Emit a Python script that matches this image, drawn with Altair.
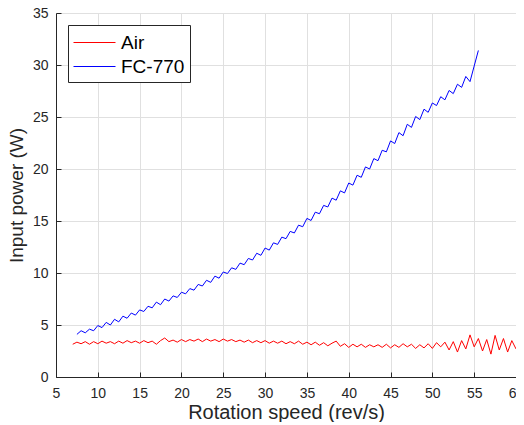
import altair as alt
import pandas as pd

# ---- data ----
air_start, step = 7.0, 0.5
air_power = [
    3.15, 3.35, 3.2, 3.4, 3.15, 3.4, 3.2, 3.45, 3.25, 3.4,
    3.2, 3.45, 3.25, 3.5, 3.3, 3.45, 3.25, 3.5, 3.3, 3.45,
    3.15, 3.5, 3.75, 3.4, 3.55, 3.35, 3.6, 3.4, 3.6, 3.45,
    3.65, 3.4, 3.65, 3.45, 3.6, 3.4, 3.65, 3.45, 3.6, 3.4,
    3.55, 3.35, 3.55, 3.3, 3.5, 3.3, 3.5, 3.25, 3.45, 3.25,
    3.45, 3.2, 3.4, 3.2, 3.45, 3.15, 3.35, 3.1, 3.35, 3.05,
    3.3, 3.0, 3.25, 3.45, 2.95, 3.2, 2.85, 3.15, 2.9, 3.15,
    2.85, 3.1, 2.9, 3.1, 2.85, 3.15, 2.8, 3.1, 2.85, 3.2,
    2.9, 3.15, 2.75, 3.1, 2.8, 3.2, 2.75, 3.3, 2.9, 3.35,
    2.6, 3.4, 2.4, 3.5, 2.7, 4.05, 2.9, 3.7, 2.5, 3.6,
    2.2, 4.0, 2.6, 3.7, 2.4, 3.5, 2.7,
]
fc_start = 7.5
fc_power = [
    4.1, 4.45, 4.25, 4.6, 4.45, 4.95, 4.75, 5.25, 5.0, 5.55,
    5.3, 5.85, 5.65, 6.15, 5.95, 6.45, 6.3, 6.8, 6.65, 7.2,
    6.95, 7.5, 7.3, 7.8, 7.65, 8.15, 8.0, 8.5, 8.35, 8.9,
    8.75, 9.3, 9.1, 9.7, 9.5, 10.1, 9.95, 10.5, 10.35, 10.95,
    10.8, 11.4, 11.25, 11.9, 11.7, 12.4, 12.2, 12.9, 12.75, 13.45,
    13.3, 14.0, 13.85, 14.6, 14.45, 15.25, 15.05, 15.85, 15.7, 16.5,
    16.35, 17.2, 17.0, 17.9, 17.7, 18.65, 18.45, 19.4, 19.2, 20.2,
    20.0, 21.0, 20.8, 21.8, 21.65, 22.7, 22.45, 23.5, 23.2, 24.3,
    24.0, 25.05, 24.75, 25.75, 25.45, 26.35, 26.1, 26.95, 26.65, 27.55,
    27.25, 28.15, 27.85, 28.9, 28.4, 29.9, 31.4,
]
series_names = ["Air", "FC-770"]
series_colors = ["#ff0000", "#0000ff"]
x_ticks = [5, 10, 15, 20, 25, 30, 35, 40, 45, 50, 55, 60]
y_ticks = [0, 5, 10, 15, 20, 25, 30, 35]

rows = []
for i, v in enumerate(air_power):
    rows.append({"speed": air_start + step * i, "power": v, "fluid": "Air", "order": i})
for i, v in enumerate(fc_power):
    rows.append({"speed": fc_start + step * i, "power": v, "fluid": "FC-770", "order": i})
df = pd.DataFrame(rows)

W, H = 460, 364
FONT = "Liberation Sans"
DARK = "#262626"
GRID = "#e0e0e0"
xs = alt.Scale(domain=[5, 60], nice=False, zero=False)
ys = alt.Scale(domain=[0, 35], nice=False)

main = alt.Chart(df).mark_line(strokeWidth=1, clip=True).encode(
    x=alt.X("speed:Q", scale=xs,
            axis=alt.Axis(values=x_ticks, title="Rotation speed (rev/s)", orient="bottom",
                          ticks=False, domain=True, domainColor=DARK, grid=True, gridColor=GRID,
                          labelFlush=False, labelPadding=9, titlePadding=2, titleFontSize=20)),
    y=alt.Y("power:Q", scale=ys,
            axis=alt.Axis(values=y_ticks, title="Input power (W)", orient="left",
                          ticks=False, domain=True, domainColor=DARK, grid=True, gridColor=GRID,
                          labelFlush=False, labelPadding=8, titlePadding=6, titleFontSize=19)),
    color=alt.Color("fluid:N", scale=alt.Scale(domain=series_names, range=series_colors),
                    legend=alt.Legend(title=None, orient="none", legendX=12, legendY=12,
                                      symbolType="M-1.75,0H1.75", symbolSize=576,
                                      symbolStrokeWidth=1, symbolOffset=9,
                                      labelOffset=14, labelFontSize=19, labelFont=FONT,
                                      labelColor="#000000", rowPadding=1,
                                      strokeColor=DARK, fillColor="#ffffff",
                                      padding=5)),
    order="order:Q",
)

# inward tick marks on the bottom and left axes
ticks_in = alt.Chart(df).mark_line(opacity=0).encode(
    x=alt.X("speed:Q", scale=xs,
            axis=alt.Axis(values=x_ticks, orient="top", offset=-H, labels=False, title=None,
                          grid=False, domain=False, ticks=True, tickSize=5, tickColor=DARK)),
    y=alt.Y("power:Q", scale=ys,
            axis=alt.Axis(values=y_ticks, orient="right", offset=-W, labels=False, title=None,
                          grid=False, domain=False, ticks=True, tickSize=5, tickColor=DARK)),
)

chart = alt.layer(main, ticks_in).resolve_axis(
    x="independent", y="independent"
).properties(
    width=W, height=H, background="white",
    autosize=alt.AutoSizeParams(type="none"),
    padding={"left": 48, "top": 5, "right": 0, "bottom": 45},
).configure_view(
    stroke=None
).configure_axis(
    labelFont=FONT, labelFontSize=14, labelColor=DARK,
    titleFont=FONT, titleFontWeight="normal", titleColor=DARK,
)

chart.save("out.html", embed_options={"renderer": "svg", "actions": False})
